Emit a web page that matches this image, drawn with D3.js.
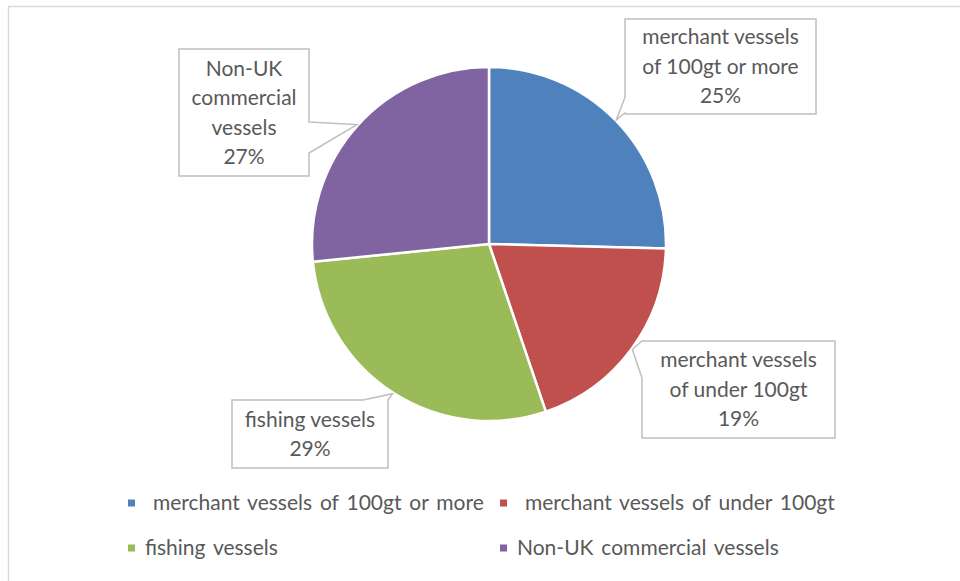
<!DOCTYPE html>
<html>
<head>
<meta charset="utf-8">
<script src="https://cdn.jsdelivr.net/npm/d3@7"></script>
<style>
  html, body { margin: 0; padding: 0; background: #ffffff; }
  svg { display: block; }
  text { font-family: Lato, "Open Sans", sans-serif; fill: #595959; }
</style>
</head>
<body>
<svg id="chart" width="960" height="581"></svg>
<script>
// Share of vessels by type (percent)
const categories = [
  " merchant vessels of 100gt or more",
  " merchant vessels of under 100gt",
  "fishing vessels",
  "Non-UK commercial vessels"
];
const values = [25.4, 19.4, 28.6, 26.6];
const colors = ["#4F81BD", "#C0504D", "#9BBB59", "#8064A2"];
// Wrapped names shown inside the data callouts
const calloutNames = [
  ["merchant vessels", "of 100gt or more"],
  ["merchant vessels", "of under 100gt"],
  ["fishing vessels"],
  ["Non-UK", "commercial", "vessels"]
];

const svg = d3.select("#chart");
const W = 960, H = 581;

// chart area frame
svg.append("rect")
  .attr("x", 8.5).attr("y", 6.5)
  .attr("width", W + 10).attr("height", H + 10)
  .attr("fill", "#fff").attr("stroke", "#D9D9D9").attr("stroke-width", 1.5);

const cx = 489, cy = 244, R = 177;
const total = d3.sum(values);
const pct = d3.format(".0%");

const pie = d3.pie().sort(null).value(d => d.value).startAngle(0).endAngle(2 * Math.PI);
const data = categories.map((c, i) => ({ name: c, value: values[i], color: colors[i], lines: calloutNames[i] }));
const arcs = pie(data);
const arc = d3.arc().innerRadius(0).outerRadius(R);
const edge = d3.arc().innerRadius(R + 1).outerRadius(R + 1);

const g = svg.append("g").attr("transform", `translate(${cx},${cy})`);
g.selectAll("path.slice")
  .data(arcs)
  .join("path")
  .attr("class", "slice")
  .attr("d", arc)
  .attr("fill", d => d.data.color)
  .attr("stroke", "#fff")
  .attr("stroke-width", 2.5)
  .attr("stroke-linejoin", "round");

// callout boxes: rectangle, side carrying the pointer, and the pointer base span on that side
const boxes = [
  { x: 625, y: 19,  w: 191, h: 95,  side: "left",  a: 97,  b: 113 },
  { x: 642, y: 341, w: 193, h: 97,  side: "left",  a: 341, b: 378 },
  { x: 232, y: 400, w: 156, h: 68,  side: "top",   a: 363, b: 388 },
  { x: 179, y: 49,  w: 130, h: 127, side: "right", a: 122, b: 153 }
];

function calloutPath(bx, apex) {
  const { x, y, w, h, side, a, b } = bx;
  const x2 = x + w, y2 = y + h;
  const [px, py] = apex;
  let pts;
  if (side === "left") {
    pts = [[x, y], [x2, y], [x2, y2], [x, y2], [x, b], [px, py], [x, a]];
  } else if (side === "right") {
    pts = [[x, y], [x2, y], [x2, a], [px, py], [x2, b], [x2, y2], [x, y2]];
  } else {
    pts = [[x, y], [a, y], [px, py], [b, y], [x2, y], [x2, y2], [x, y2]];
  }
  return "M" + pts.map(p => p.join(",")).join("L") + "Z";
}

const lineH = 29.5;
arcs.forEach((d, i) => {
  const bx = boxes[i];
  const c = edge.centroid(d);
  const apex = [cx + c[0], cy + c[1]];
  svg.append("path")
    .attr("d", calloutPath(bx, apex))
    .attr("fill", "#fff")
    .attr("stroke", "#BFBFBF")
    .attr("stroke-width", 1.5)
    .attr("stroke-linejoin", "miter");
  const lines = d.data.lines.concat([pct(d.data.value / total)]);
  const midX = bx.x + bx.w / 2;
  const midY = bx.y + bx.h / 2;
  const startY = midY - (lines.length - 1) * lineH / 2;
  const t = svg.append("text")
    .attr("text-anchor", "middle")
    .attr("font-size", 21);
  lines.forEach((ln, k) => {
    t.append("tspan")
      .attr("x", midX)
      .attr("y", startY + k * lineH)
      .attr("dy", "0.35em")
      .text(ln);
  });
});

// legend
const legendPos = [[128, 503], [500, 503], [128, 548], [500, 548]];
const legend = svg.append("g");
data.forEach((d, i) => {
  const [lx, ly] = legendPos[i];
  legend.append("rect")
    .attr("x", lx).attr("y", ly - 3.5)
    .attr("width", 7).attr("height", 7)
    .attr("fill", d.color);
  legend.append("text")
    .attr("x", lx + 17)
    .attr("y", ly)
    .attr("dy", "0.35em")
    .attr("font-size", 21)
    .attr("word-spacing", 2.5)
    .style("white-space", "pre")
    .text(d.name);
});
</script>
</body>
</html>
